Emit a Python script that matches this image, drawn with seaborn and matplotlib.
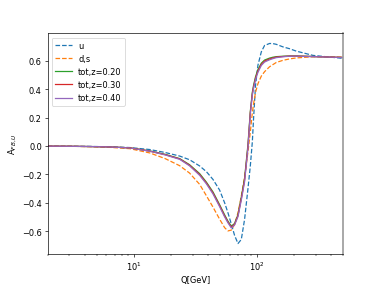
import matplotlib
matplotlib.use("Agg")
import matplotlib.pyplot as plt
import seaborn as sns
import numpy as np
import pandas as pd

# Q grid [GeV]
q_vals = [2, 3, 4.5, 6.5, 9.3, 13.5, 18, 23.6, 28.4, 34.3, 38.9, 44, 49.8,
          54.7, 58.2, 62, 65.9, 70.2, 74.7, 79.4, 84.6, 88.4, 91.8, 94, 97.5,
          101.9, 108.6, 115.4, 126.8, 134.9, 143.6, 162.6, 184.1, 208.7,
          284.7, 388.6, 500]

afb_u = [0.0, -0.001, -0.002, -0.005, -0.010, -0.024, -0.045, -0.07, -0.096,
         -0.14, -0.18, -0.235, -0.31, -0.40, -0.47, -0.55, -0.63, -0.687,
         -0.658, -0.517, -0.30, -0.14, 0.03, 0.20, 0.43, 0.57, 0.665, 0.71,
         0.724, 0.723, 0.718, 0.70, 0.687, 0.67, 0.64, 0.628, 0.619]

afb_ds = [0.0, -0.001, -0.004, -0.009, -0.018, -0.048, -0.088, -0.138, -0.19,
          -0.27, -0.35, -0.43, -0.515, -0.575, -0.598, -0.592, -0.552, -0.47,
          -0.353, -0.22, -0.04, 0.10, 0.236, 0.30, 0.38, 0.44, 0.494, 0.525,
          0.56, 0.575, 0.59, 0.605, 0.615, 0.622, 0.63, 0.63, 0.628]

afb_z020 = [0.0, -0.001, -0.003, -0.006, -0.012, -0.034, -0.058, -0.088, -0.131,
            -0.194, -0.254, -0.323, -0.413, -0.485, -0.529, -0.565, -0.545,
            -0.484, -0.36, -0.228, 0.012, 0.245, 0.38, 0.43, 0.49, 0.54, 0.585,
            0.607, 0.621, 0.627, 0.631, 0.634, 0.636, 0.636, 0.632, 0.628, 0.625]

afb_z030 = [0.0, -0.001, -0.003, -0.006, -0.012, -0.035, -0.06, -0.09, -0.135,
            -0.20, -0.26, -0.33, -0.42, -0.492, -0.535, -0.571, -0.55,
            -0.49, -0.37, -0.24, 0.0, 0.236, 0.37, 0.42, 0.48, 0.53, 0.577, 0.60,
            0.615, 0.622, 0.628, 0.632, 0.635, 0.635, 0.632, 0.628, 0.625]

afb_z040 = [0.0, -0.001, -0.003, -0.006, -0.013, -0.036, -0.062, -0.093, -0.139,
            -0.206, -0.266, -0.337, -0.427, -0.499, -0.541, -0.577, -0.556,
            -0.497, -0.38, -0.252, -0.012, 0.226, 0.36, 0.41, 0.47, 0.52, 0.569,
            0.593, 0.609, 0.617, 0.624, 0.630, 0.634, 0.634, 0.631, 0.628, 0.625]

labels = ["u", "d,s", "tot,z=0.20", "tot,z=0.30", "tot,z=0.40"]
series = [afb_u, afb_ds, afb_z020, afb_z030, afb_z040]
colors = ["#1f77b4", "#ff7f0e", "#2ca02c", "#d62728", "#9467bd"]
styles = ["--", "--", "-", "-", "-"]

fig, ax = plt.subplots(figsize=(6.4, 4.8), dpi=59.55)

for lab, vals, col, ls in zip(labels, series, colors, styles):
    df = pd.DataFrame({"Q": q_vals, "A": vals})
    sns.lineplot(data=df, x="Q", y="A", ax=ax, color=col, linestyle=ls,
                 label=lab, linewidth=1.5)

ax.set_xscale("log")
ax.set_xlim(2, 500)
ax.set_xlabel("Q[GeV]")
ax.set_ylabel("A$_{FB,U}$")
ax.legend(loc="upper left")

# right spine shows up grey/thick in the original
ax.spines["right"].set_color("#999999")
ax.spines["right"].set_linewidth(2)

fig.savefig("out.png", dpi=59.55)
